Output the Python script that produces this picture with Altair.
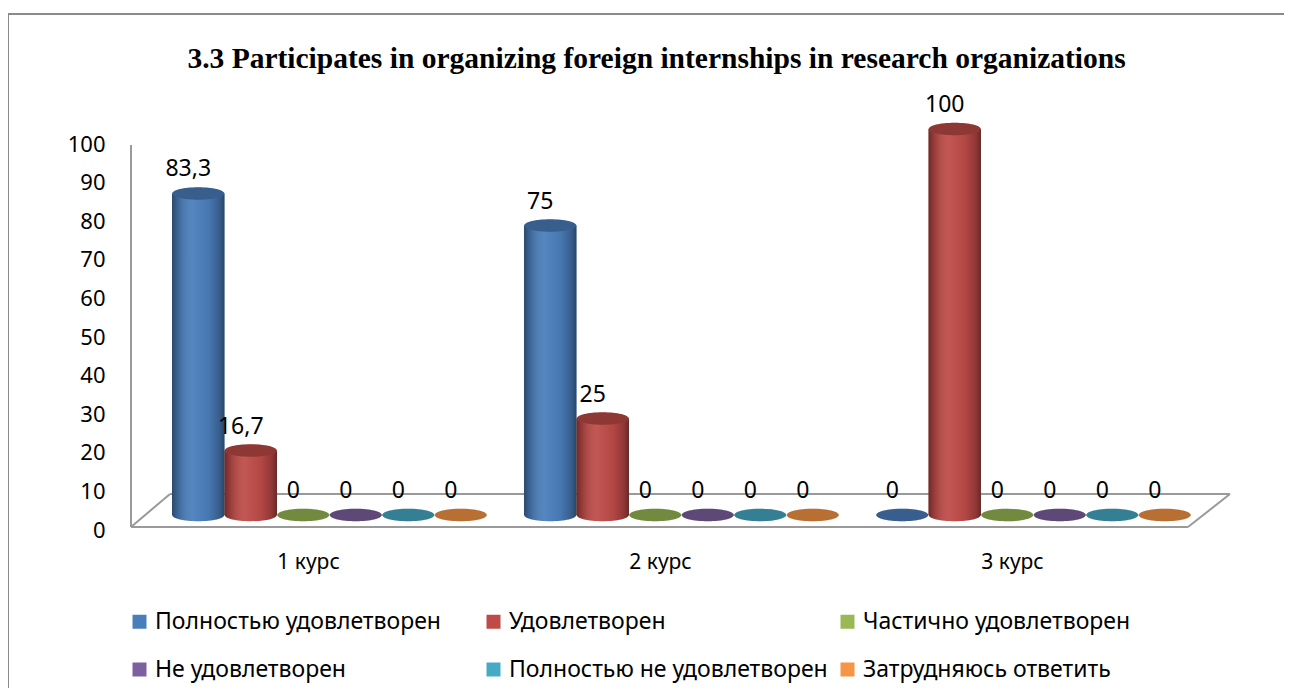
import altair as alt
import pandas as pd

courses = ["1 курс", "2 курс", "3 курс"]
series = [
    "Полностью удовлетворен",
    "Удовлетворен",
    "Частично удовлетворен",
    "Не удовлетворен",
    "Полностью не удовлетворен",
    "Затрудняюсь ответить",
]
colors = ["#4A7EBB", "#BE4B48", "#98B954", "#7D60A0", "#46AAC5", "#F69544"]
values_course1 = [83.3, 16.7, 0, 0, 0, 0]
values_course2 = [75, 25, 0, 0, 0, 0]
values_course3 = [0, 100, 0, 0, 0, 0]
y_ticks = [0, 10, 20, 30, 40, 50, 60, 70, 80, 90, 100]
title_text = "3.3 Participates in organizing foreign internships in research organizations"


def fmt(v):
    return str(int(v)) if float(v).is_integer() else str(v).replace(".", ",")


rows = []
for course, vals in zip(courses, [values_course1, values_course2, values_course3]):
    for s, v in zip(series, vals):
        rows.append({"course": course, "series": s, "value": v, "zero": 0, "label": fmt(v)})
df = pd.DataFrame(rows)
deco = pd.DataFrame({"d": [0]})

FONT = "Noto Sans"
ELLIPSE = ("M -1 0 C -1 -0.133 -0.552 -0.24 0 -0.24 C 0.552 -0.24 1 -0.133 1 0 "
           "C 1 0.133 0.552 0.24 0 0.24 C -0.552 0.24 -1 0.133 -1 0 Z")
ESIZE = 2704

x_enc = alt.X(
    "course:N", sort=courses, title=None,
    scale=alt.Scale(paddingInner=0.105, paddingOuter=0.1165),
    axis=alt.Axis(domain=False, ticks=False, labelAngle=0, labelFont=FONT, labelFontSize=21,
                  labelColor="#000000", labelPadding=36, labelOffset=-21, labelBaseline="top"),
)
xo_enc = alt.XOffset("series:N", sort=series, scale=alt.Scale(paddingInner=0, paddingOuter=0))
y_axis = alt.Axis(values=y_ticks, domain=False, ticks=False, grid=False, labelFont=FONT,
                  labelFontSize=22, labelColor="#000000", labelPadding=26, labelOffset=15)
y_scale = alt.Scale(domain=[0, 100], nice=False, zero=True)
y_val = alt.Y("value:Q", scale=y_scale, axis=y_axis, title=None)
y_zero = alt.Y("zero:Q", scale=y_scale, axis=y_axis, title=None)
legend = alt.Legend(
    title=None, orient="none", legendX=-3, legendY=481, columns=3, direction="horizontal",
    symbolType="square", symbolSize=196, symbolStrokeWidth=0, labelFont=FONT, labelFontSize=23,
    labelColor="#000000", labelOffset=4, gridAlign="all", columnPadding=8, rowPadding=24,
    padding=0, labelLimit=0,
)
c_enc = alt.Color("series:N", sort=series, scale=alt.Scale(domain=series, range=colors), legend=legend)

shade_h = {
    "gradient": "linear", "x1": 0, "x2": 1, "y1": 0, "y2": 0,
    "stops": [
        {"offset": 0.0, "color": "rgba(0,0,0,0.42)"},
        {"offset": 0.12, "color": "rgba(0,0,0,0.18)"},
        {"offset": 0.4, "color": "rgba(255,255,255,0.06)"},
        {"offset": 0.7, "color": "rgba(0,0,0,0.06)"},
        {"offset": 0.9, "color": "rgba(0,0,0,0.25)"},
        {"offset": 1.0, "color": "rgba(0,0,0,0.45)"},
    ],
}

base = alt.Chart(df)
pos = base.transform_filter("datum.value > 0")

bottom_ell = pos.mark_point(shape=ELLIPSE, size=ESIZE, filled=True, opacity=1, strokeWidth=0).encode(
    x=x_enc, xOffset=xo_enc, y=y_zero, color=c_enc)
bottom_shade = pos.mark_point(shape=ELLIPSE, size=ESIZE, filled=True, opacity=1, strokeWidth=0).encode(
    x=x_enc, xOffset=xo_enc, y=y_zero, fill=alt.value(shade_h))
bars = pos.mark_bar().encode(x=x_enc, xOffset=xo_enc, y=y_val, color=c_enc)
bars_shade = pos.mark_bar().encode(x=x_enc, xOffset=xo_enc, y=y_val, fill=alt.value(shade_h))
top_ell = base.mark_point(shape=ELLIPSE, size=ESIZE, filled=True, opacity=1, strokeWidth=0).encode(
    x=x_enc, xOffset=xo_enc, y=y_val, color=c_enc)
top_dark = base.mark_point(shape=ELLIPSE, size=ESIZE, filled=True, strokeWidth=0).encode(
    x=x_enc, xOffset=xo_enc, y=y_val, fill=alt.value("#000000"), opacity=alt.value(0.25))
labels = base.mark_text(font=FONT, fontSize=23, color="#000000", dy=-24, dx=-10, baseline="middle").encode(
    x=x_enc, xOffset=xo_enc, y=y_val, text="label:N")

GRAY = "#9a9a9a"
def rule(x1, y1, x2, y2, color=GRAY, w=2):
    return alt.Chart(deco).mark_rule(color=color, strokeWidth=w).encode(
        x=alt.value(x1), y=alt.value(y1), x2=alt.value(x2), y2=alt.value(y2))

border = [rule(-123, -115, 1160, -115, "#8a8a8a", 2), rule(-123, -115, -123, 570, "#8a8a8a", 2)]
axis_line = [rule(0, 16, 0, 398)]
floor = [rule(0, 398, 1057, 398), rule(39, 365, 1099, 365), rule(0, 398, 39, 365), rule(1057, 398, 1099, 365)]

chart = alt.layer(
    *border, *axis_line, *floor,
    bottom_ell, bottom_shade, bars, bars_shade, top_ell, top_dark, labels,
).properties(
    width=1101, height=386,
    title=alt.Title(title_text, font="Liberation Serif", fontSize=29.5, fontWeight="bold", color="#000000",
                    anchor="middle", dx=-25, offset=-84, baseline="alphabetic"),
    autosize=alt.AutoSizeParams(type="none"),
    padding={"left": 123, "top": 121, "right": 52, "bottom": 173},
).configure_view(stroke=None)

chart.save("out.html", embed_options={"renderer": "svg", "actions": False})
